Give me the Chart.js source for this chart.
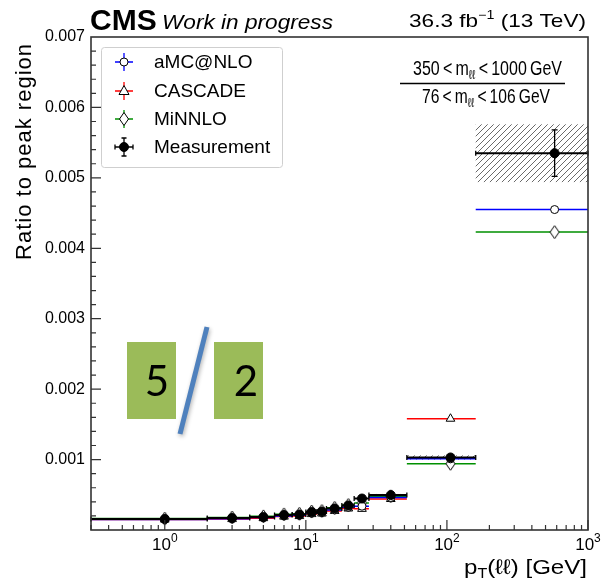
<!DOCTYPE html>
<html>
<head>
<meta charset="utf-8">
<script src="https://cdn.jsdelivr.net/npm/chart.js@4.4.1/dist/chart.umd.min.js"></script>
<style>
body { margin: 0; background: #fff; }
#wrap { width: 602px; height: 581px; }
</style>
</head>
<body>
<div id="wrap"><canvas id="ratioChart"></canvas></div>
<script>
// pT(ll) bins [GeV]
const binLo     = [0, 2, 4, 6, 8, 10, 12, 14, 18, 22, 28, 52, 160];
const binHi     = [2, 4, 6, 8, 10, 12, 14, 18, 22, 28, 52, 160, 1000];
const binCenter = [1, 3, 5, 7, 9, 11, 13, 16, 20, 25, 40, 106, 580];

// ratio to peak region
const measurement = [0.000156, 0.000170, 0.000184, 0.000213, 0.000220, 0.000255, 0.000262, 0.000305, 0.000348, 0.000447, 0.000496, 0.00103, 0.00535];
const measStat    = [0.000004, 0.000005, 0.000005, 0.000006, 0.000006, 0.000007, 0.000007, 0.000008, 0.000009, 0.000012, 0.000012, 0.00003, 0.00033];
const measSyst    = [0.000006, 0.000007, 0.000007, 0.000008, 0.000008, 0.000009, 0.000010, 0.000011, 0.000012, 0.000015, 0.000016, 0.00003, 0.00041];
const amcatnlo    = [0.000150, 0.000160, 0.000176, 0.000200, 0.000208, 0.000238, 0.000246, 0.000285, 0.000322, 0.000338, 0.000462, 0.00101, 0.00455];
const cascade     = [0.000148, 0.000155, 0.000168, 0.000190, 0.000198, 0.000226, 0.000234, 0.000270, 0.000305, 0.000300, 0.000440, 0.00158, null];
const minnlo      = [0.000162, 0.000178, 0.000194, 0.000222, 0.000230, 0.000262, 0.000270, 0.000315, 0.000355, 0.000385, 0.000480, 0.00094, 0.00423];

const yTickLabels = ['0.001', '0.002', '0.003', '0.004', '0.005', '0.006', '0.007'];
const xTickPowers = [0, 1, 2, 3];
const xMin = 0.3, xMax = 1000;

const FONT = "'Liberation Sans', Arial, Helvetica, sans-serif";
const BLUE = '#0000ff', RED = '#ff0000', GREEN = '#009000';

function steps(vals) {
  const pts = [];
  vals.forEach((v, i) => {
    if (v === null) return;
    pts.push({x: Math.max(binLo[i], xMin), y: v});
    pts.push({x: binHi[i], y: v});
    pts.push({x: binHi[i], y: null});
  });
  return pts;
}
function centers(vals) {
  return vals.map((v, i) => v === null ? null : {x: binCenter[i], y: v}).filter(p => p);
}

function diamondPath(g, cx, cy) {
  g.beginPath();
  g.moveTo(cx, cy - 6.5); g.lineTo(cx + 4.5, cy); g.lineTo(cx, cy + 6.5); g.lineTo(cx - 4.5, cy);
  g.closePath();
}
const diamondImg = (() => {
  const c = document.createElement('canvas');
  c.width = 11; c.height = 15;
  const g = c.getContext('2d');
  diamondPath(g, 5.5, 7.5);
  g.fillStyle = '#fff'; g.fill();
  g.strokeStyle = '#000'; g.lineWidth = 1; g.stroke();
  return c;
})();

const hatch = (() => {
  const c = document.createElement('canvas');
  c.width = 6; c.height = 6;
  const g = c.getContext('2d');
  g.strokeStyle = '#444'; g.lineWidth = 0.8;
  g.beginPath();
  g.moveTo(0, 6); g.lineTo(6, 0);
  g.moveTo(-1, 1); g.lineTo(1, -1);
  g.moveTo(5, 7); g.lineTo(7, 5);
  g.stroke();
  return c;
})();

// draws text pieces (sub/superscripts) side by side; optional width squeezes/stretches to fit
function textRuns(ctx, parts, x, y, align, width) {
  let w = 0;
  parts.forEach(p => { ctx.font = p.f; p.w = ctx.measureText(p.t).width; w += p.w; });
  const s = width ? width / w : 1;
  const tw = w * s;
  const x0 = align === 'right' ? x - tw : align === 'center' ? x - tw / 2 : x;
  ctx.save();
  ctx.translate(x0, y);
  ctx.scale(s, 1);
  ctx.textAlign = 'left';
  ctx.textBaseline = 'alphabetic';
  let cx = 0;
  parts.forEach(p => { ctx.font = p.f; ctx.fillText(p.t, cx, p.dy || 0); cx += p.w; });
  ctx.restore();
}

const decor = {
  id: 'decor',
  beforeDatasetsDraw(chart) {
    const {ctx, chartArea: a, scales: {x, y}} = chart;
    ctx.save();
    ctx.beginPath(); ctx.rect(a.left, a.top, a.width, a.height); ctx.clip();
    ctx.fillStyle = ctx.createPattern(hatch, 'repeat');
    measurement.forEach((v, i) => {
      const x0 = x.getPixelForValue(Math.max(binLo[i], xMin));
      const x1 = x.getPixelForValue(binHi[i]);
      const y0 = y.getPixelForValue(v + measSyst[i]);
      const y1 = y.getPixelForValue(v - measSyst[i]);
      ctx.fillRect(x0, y0, x1 - x0, y1 - y0);
    });
    ctx.restore();
  },
  afterDatasetsDraw(chart) {
    const {ctx, chartArea: a, scales: {x, y}} = chart;
    ctx.save();

    // measurement error bars and bin-edge caps
    ctx.strokeStyle = '#000'; ctx.lineWidth = 1.3;
    measurement.forEach((v, i) => {
      const px = x.getPixelForValue(binCenter[i]);
      const py = y.getPixelForValue(v);
      const yt = y.getPixelForValue(v + measStat[i]);
      const yb = y.getPixelForValue(v - measStat[i]);
      ctx.beginPath();
      ctx.moveTo(px, yt); ctx.lineTo(px, yb);
      if (yb - yt > 6) {
        ctx.moveTo(px - 3, yt); ctx.lineTo(px + 3, yt);
        ctx.moveTo(px - 3, yb); ctx.lineTo(px + 3, yb);
      }
      const xl = x.getPixelForValue(Math.max(binLo[i], xMin));
      const xr = x.getPixelForValue(binHi[i]);
      ctx.moveTo(xl, py - 2.5); ctx.lineTo(xl, py + 2.5);
      ctx.moveTo(xr, py - 2.5); ctx.lineTo(xr, py + 2.5);
      ctx.stroke();
    });

    // frame
    ctx.strokeStyle = '#333'; ctx.lineWidth = 1.6;
    ctx.strokeRect(a.left, a.top, a.width, a.height);

    // ticks
    ctx.lineWidth = 1.2;
    ctx.beginPath();
    for (let e = -1; e <= 3; e++) {
      for (let k = 1; k <= 9; k++) {
        const v = k * Math.pow(10, e);
        if (v < xMin || v > xMax) continue;
        const px = x.getPixelForValue(v);
        const len = k === 1 ? 10 : 5;
        ctx.moveTo(px, a.bottom); ctx.lineTo(px, a.bottom - len);
      }
    }
    for (let i = 1; i < 35; i++) {
      const py = y.getPixelForValue(i * 0.0002);
      const len = i % 5 === 0 ? 10 : 5;
      ctx.moveTo(a.left, py); ctx.lineTo(a.left + len, py);
    }
    ctx.stroke();

    // x tick labels 10^n
    ctx.fillStyle = '#000';
    xTickPowers.forEach(p => {
      const px = x.getPixelForValue(Math.pow(10, p));
      textRuns(ctx, [
        {t: '10', f: '17px ' + FONT},
        {t: String(p), f: '12px ' + FONT, dy: -8}
      ], px, 550, 'center');
    });

    // axis titles
    textRuns(ctx, [
      {t: 'p', f: '21px ' + FONT},
      {t: 'T', f: '14px ' + FONT, dy: 4},
      {t: '(ℓℓ) [GeV]', f: '21px ' + FONT}
    ], 587, 574, 'right', 123);

    ctx.save();
    ctx.translate(31, 43);
    ctx.rotate(-Math.PI / 2);
    ctx.font = '22px ' + FONT;
    ctx.letterSpacing = '1px';
    ctx.textAlign = 'right';
    ctx.textBaseline = 'alphabetic';
    ctx.fillText('Ratio to peak region', 0, 0);
    ctx.restore();

    // header
    ctx.font = 'bold 30px ' + FONT;
    ctx.textAlign = 'left';
    ctx.fillText('CMS', 90, 30);
    textRuns(ctx, [{t: 'Work in progress', f: 'italic 21px ' + FONT}], 162, 29, 'left', 171);
    textRuns(ctx, [
      {t: '36.3 fb', f: '19px ' + FONT},
      {t: '−1', f: '12px ' + FONT, dy: -8},
      {t: ' (13 TeV)', f: '19px ' + FONT}
    ], 586, 27, 'right', 177);

    // mass window fraction
    const th = '\u2009';
    textRuns(ctx, [
      {t: '350' + th + '<' + th + 'm', f: '20px ' + FONT},
      {t: 'ℓℓ', f: '13px ' + FONT, dy: 4},
      {t: th + '<' + th + '1000' + th + 'GeV', f: '20px ' + FONT}
    ], 487.5, 75, 'center', 149);
    textRuns(ctx, [
      {t: '76' + th + '<' + th + 'm', f: '20px ' + FONT},
      {t: 'ℓℓ', f: '13px ' + FONT, dy: 4},
      {t: th + '<' + th + '106' + th + 'GeV', f: '20px ' + FONT}
    ], 486, 103, 'center', 128);
    ctx.lineWidth = 1.6; ctx.strokeStyle = '#000';
    ctx.beginPath(); ctx.moveTo(400, 83.5); ctx.lineTo(565, 83.5); ctx.stroke();

    // legend
    ctx.strokeStyle = '#cfcfcf'; ctx.lineWidth = 1;
    ctx.beginPath(); ctx.roundRect(101.5, 47.5, 181, 120, 3); ctx.stroke();
    const entries = [
      {name: 'aMC@NLO', color: BLUE, mark: 'circle'},
      {name: 'CASCADE', color: RED, mark: 'triangle'},
      {name: 'MiNNLO', color: GREEN, mark: 'diamond'},
      {name: 'Measurement', color: '#000', mark: 'dot'}
    ];
    const ly = [62, 91, 119, 147];
    entries.forEach((en, i) => {
      const cx = 124, cy = ly[i];
      ctx.strokeStyle = en.color; ctx.lineWidth = 1.3;
      ctx.beginPath();
      ctx.moveTo(cx - 9, cy); ctx.lineTo(cx + 9, cy);
      ctx.moveTo(cx, cy - 9); ctx.lineTo(cx, cy + 9);
      if (en.mark === 'dot') {
        ctx.moveTo(cx - 9, cy - 2.5); ctx.lineTo(cx - 9, cy + 2.5);
        ctx.moveTo(cx + 9, cy - 2.5); ctx.lineTo(cx + 9, cy + 2.5);
        ctx.moveTo(cx - 2.5, cy - 9); ctx.lineTo(cx + 2.5, cy - 9);
        ctx.moveTo(cx - 2.5, cy + 9); ctx.lineTo(cx + 2.5, cy + 9);
      }
      ctx.stroke();
      ctx.strokeStyle = '#000'; ctx.lineWidth = 1;
      ctx.fillStyle = en.mark === 'dot' ? '#000' : '#fff';
      ctx.beginPath();
      if (en.mark === 'circle') ctx.arc(cx, cy, 4, 0, Math.PI * 2);
      else if (en.mark === 'dot') ctx.arc(cx, cy, 4.5, 0, Math.PI * 2);
      else if (en.mark === 'triangle') { ctx.moveTo(cx, cy - 5.5); ctx.lineTo(cx + 5, cy + 3.5); ctx.lineTo(cx - 5, cy + 3.5); ctx.closePath(); }
      else diamondPath(ctx, cx, cy);
      ctx.fill(); ctx.stroke();
      ctx.fillStyle = '#000';
      ctx.font = '19px ' + FONT;
      ctx.textAlign = 'left'; ctx.textBaseline = 'middle';
      ctx.fillText(en.name, 154, cy + 1);
    });
    ctx.restore();
  },
  afterDraw(chart) {
    // pasted "5 / 2" graphic
    const ctx = chart.ctx;
    ctx.save();
    ctx.fillStyle = '#9bbb59';
    ctx.fillRect(127, 342, 49, 77);
    ctx.fillRect(214, 342, 49, 77);
    ctx.fillStyle = '#000';
    ctx.font = "42px Lato, 'Open Sans', sans-serif";
    ctx.textAlign = 'center'; ctx.textBaseline = 'alphabetic';
    ctx.fillText('5', 157, 396);
    ctx.fillText('2', 246, 396);
    ctx.shadowColor = 'rgba(0,0,0,0.3)'; ctx.shadowBlur = 4; ctx.shadowOffsetX = 1; ctx.shadowOffsetY = 2;
    ctx.strokeStyle = '#4f81bd'; ctx.lineWidth = 5;
    ctx.beginPath(); ctx.moveTo(207, 327); ctx.lineTo(180, 434); ctx.stroke();
    ctx.restore();
  }
};

function lineSet(label, vals, color, width, order) {
  return {label, data: steps(vals), showLine: true, borderColor: color, borderWidth: width,
          pointRadius: 0, pointHoverRadius: 0, spanGaps: false, order};
}
function markSet(label, vals, style, radius, fill, order) {
  return {label, data: centers(vals), showLine: false, pointStyle: style, pointRadius: radius,
          pointBackgroundColor: fill, pointBorderColor: '#000', pointBorderWidth: 1, order};
}

new Chart(document.getElementById('ratioChart'), {
  type: 'scatter',
  data: {
    datasets: [
      markSet('Measurement', measurement, 'circle', 4.5, '#000', 0),
      lineSet('Measurement line', measurement, '#000', 2, 1),
      markSet('aMC@NLO', amcatnlo, 'circle', 4, '#fff', 2),
      markSet('CASCADE', cascade, 'triangle', 5, '#fff', 2),
      markSet('MiNNLO', minnlo, diamondImg, 6, '#fff', 2),
      lineSet('aMC@NLO line', amcatnlo, BLUE, 1.5, 3),
      lineSet('CASCADE line', cascade, RED, 1.5, 3),
      lineSet('MiNNLO line', minnlo, GREEN, 1.5, 3)
    ]
  },
  options: {
    responsive: true,
    maintainAspectRatio: false,
    animation: false,
    layout: {padding: {top: 37, right: 14, left: 0, bottom: 0}},
    plugins: {legend: {display: false}, tooltip: {enabled: false}},
    scales: {
      x: {
        type: 'logarithmic', min: xMin, max: xMax,
        grid: {display: false, drawTicks: false},
        border: {display: false},
        ticks: {display: false},
        afterFit: s => { s.height = 51; }
      },
      y: {
        type: 'linear', min: 0, max: 0.007,
        grid: {display: false, drawTicks: false},
        border: {display: false},
        ticks: {
          stepSize: 0.001, padding: 6, color: '#000',
          font: {family: FONT, size: 16},
          callback: v => {
            const k = Math.round(v * 1000);
            return k >= 1 ? yTickLabels[k - 1] : '';
          }
        },
        afterFit: s => { s.width = 91; }
      }
    }
  },
  plugins: [decor]
});
</script>
</body>
</html>
